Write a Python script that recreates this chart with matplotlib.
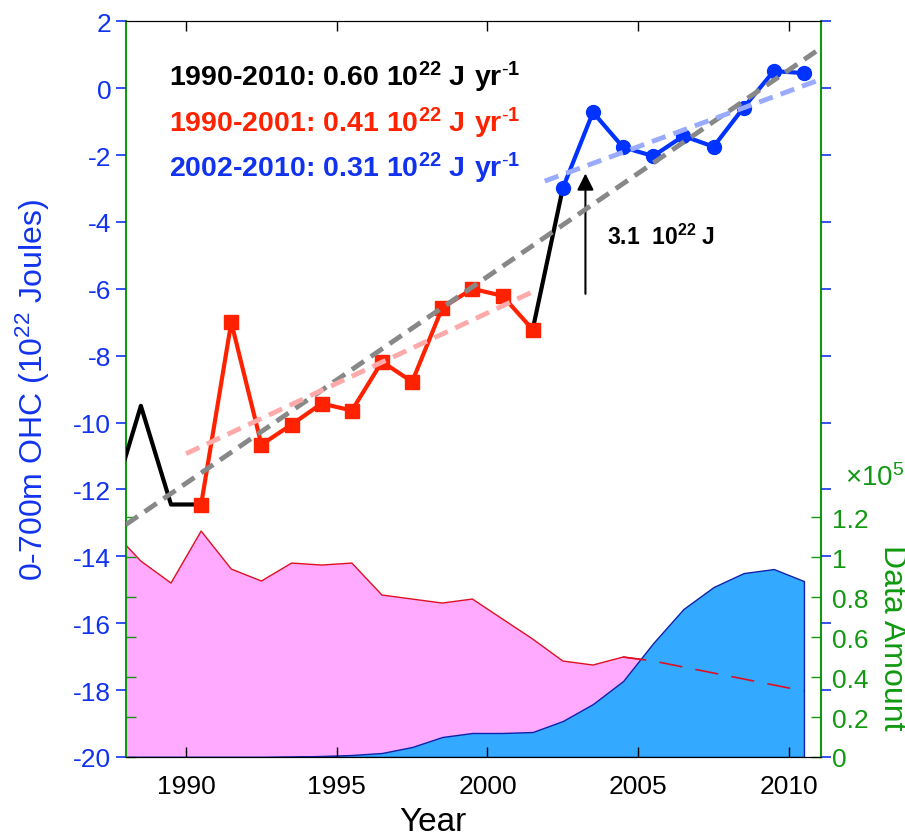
import matplotlib
matplotlib.use('Agg')
import matplotlib.pyplot as plt
import numpy as np
from matplotlib.ticker import MultipleLocator, FormatStrFormatter

plt.rcParams['font.family'] = ['Liberation Sans', 'DejaVu Sans']
plt.rcParams['axes.unicode_minus'] = False
plt.rcParams['mathtext.fontset'] = 'custom'
plt.rcParams['mathtext.rm'] = 'Liberation Sans'
plt.rcParams['mathtext.bf'] = 'Liberation Sans:bold'
plt.rcParams['mathtext.default'] = 'rm'

# yearly values (mid-year), 1987.5 .. 2010.5
years = 1987.5 + np.arange(24)
ohc = [-12.5, -9.5, -12.45, -12.45, -7.0, -10.66, -10.06, -9.43, -9.64, -8.18,
       -8.78, -6.57, -6.0, -6.21, -7.22, -2.99, -0.72, -1.77, -2.03, -1.43,
       -1.75, -0.58, 0.51, 0.45]
# data amount (x 1e5)
amount_old = [1.14, 0.98, 0.87, 1.13, 0.94, 0.88, 0.97, 0.96, 0.97, 0.81, 0.79,
              0.77, 0.79, 0.69, 0.59, 0.48, 0.46, 0.50, 0.48, 0.45, 0.42, 0.39,
              0.36, 0.33]
amount_argo = [0, 0, 0, 0, 0, 0, 0.002, 0.005, 0.01, 0.02, 0.05, 0.10, 0.12,
               0.12, 0.125, 0.18, 0.265, 0.38, 0.57, 0.74, 0.85, 0.92, 0.94, 0.88]

# trend lines (start/end year, start/end value)
trend_all = ([1988.0, 2010.9], [-13.05, 1.1])
trend_early = ([1990.0, 2001.5], [-10.93, -6.09])
trend_late = ([2001.9, 2010.9], [-2.78, 0.21])

rates = ['1990-2010: 0.60', '1990-2001: 0.41', '2002-2010: 0.31']
rate_colors = ['black', '#ff2200', '#1133ee']

fig = plt.figure(figsize=(9.05, 8.37), dpi=100)
ax1 = fig.add_axes([0.139, 0.0944, 0.768, 0.879])
ax2 = ax1.twinx()
ax1.set_zorder(ax2.get_zorder() + 1)
ax1.patch.set_visible(False)

# data amount areas
ax2.fill_between(years, 0, amount_old, facecolor='#ffaaff', edgecolor='none', zorder=1)
ax2.plot(years, amount_old, color='#dd1122', lw=1, zorder=1.5)
ax2.fill_between(years, 0, amount_argo, facecolor='#33aaff', edgecolor='#1122aa', lw=1, zorder=2)
ax2.plot(years[17:], amount_old[17:], color='#dd1122', lw=1.2, dashes=(14, 8), zorder=3)
ax2.set_ylim(0, 3.68)
ax2.set_yticks(np.arange(0, 1.3, 0.2))
ax2.yaxis.set_major_formatter(FormatStrFormatter('%g'))
ax2.tick_params(axis='y', direction='in', left=True, right=True, colors='#119911',
                labelsize=19, length=7, width=1, pad=8)
ax2.spines['right'].set_color('#119911')
ax2.spines['left'].set_color('#119911')
ax2.spines['left'].set_linewidth(1.5)
ax2.spines['right'].set_linewidth(1.5)
ax2.text(1.035, 1.40, r'$\times10^{5}$', transform=ax2.get_yaxis_transform(),
         color='#119911', fontsize=20, ha='left', va='center')
ax2.text(1.102, 0.163, 'Data Amount', transform=ax2.transAxes, rotation=270,
         color='#119911', fontsize=23, ha='center', va='center')

# OHC series
ax1.plot(years[:4], ohc[:4], color='black', lw=3, zorder=3)
ax1.plot(years[14:16], ohc[14:16], color='black', lw=3, zorder=3)
ax1.plot(years[3:15], ohc[3:15], color='#ff2200', lw=3, marker='s', ms=10, zorder=3)
ax1.plot(years[15:], ohc[15:], color='#0033ff', lw=3, marker='o', ms=10, zorder=3)

ax1.plot(*trend_all, color='#888888', lw=3.5, dashes=(3, 1.7), zorder=4)
ax1.plot(*trend_early, color='#ffaaaa', lw=3.5, dashes=(3, 1.7), zorder=4)
ax1.plot(*trend_late, color='#99aaff', lw=3.5, dashes=(3, 1.7), zorder=4)

for i, (r, c) in enumerate(zip(rates, rate_colors)):
    ax1.text(1989.44, 0.36 - 1.37 * i,
             r + r' $\mathbf{10^{22}}$ $\mathbf{J\ yr}^{\mathbf{\text{-}1}}$',
             color=c, fontsize=20.5, fontweight='bold', ha='left', va='center')

ax1.annotate('', xy=(2003.25, -2.55), xytext=(2003.25, -6.15),
             arrowprops=dict(arrowstyle='-|>', color='black', lw=1.5,
                             mutation_scale=25, shrinkA=0, shrinkB=0))
ax1.text(2003.97, -4.42, r'3.1  $\mathbf{10^{22}}$ J', fontsize=16.5,
         fontweight='bold', ha='left', va='center')

ax1.set_xlim(1988, 2011.06)
ax1.set_ylim(-20, 2)
ax1.yaxis.set_major_locator(MultipleLocator(2))
ax1.yaxis.set_major_formatter(FormatStrFormatter('%.0f'))
ax1.xaxis.set_major_locator(MultipleLocator(5))
ax1.xaxis.set_major_formatter(FormatStrFormatter('%.0f'))
ax1.tick_params(axis='y', direction='out', left=True, right=True, colors='#1133ee',
                labelsize=19, length=7, width=1.2)
ax1.tick_params(axis='x', direction='in', top=True, bottom=True, labelsize=19,
                length=7, width=1, pad=12)
for s in ['left', 'right']:
    ax1.spines[s].set_visible(False)
ax1.text(-0.134, 0.5, r'0-700m OHC ($10^{22}$ Joules)', transform=ax1.transAxes,
         rotation=90, color='#1133ee', fontsize=23, ha='center', va='center')
ax1.text(0.442, -0.088, 'Year', transform=ax1.transAxes, fontsize=24,
         ha='center', va='center')

plt.savefig('out.png', dpi=100)
